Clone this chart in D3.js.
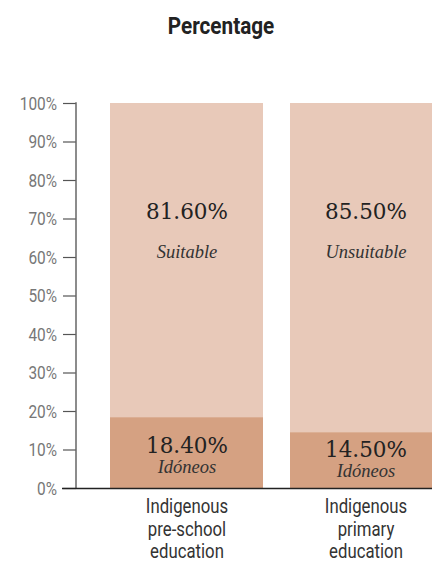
<!DOCTYPE html>
<html><head><meta charset="utf-8">
<script src="https://cdn.jsdelivr.net/npm/d3@7"></script>
<style>
body{margin:0;background:#fff;}
.cond{font-family:"Roboto","Liberation Sans",sans-serif;}
.serif{font-family:"DejaVu Serif","Liberation Serif",serif;}
.ital{font-family:"Liberation Serif","DejaVu Serif",serif;font-style:italic;}
</style></head>
<body><svg id="c" width="432" height="564"></svg>
<script>
const categories = [["Indigenous","pre-school","education"],["Indigenous","primary","education"]];
const bottomValues = [18.4, 14.5];
const topValues = [81.6, 85.5];
const bottomLabels = ["Idóneos","Idóneos"];
const topLabels = ["Suitable","Unsuitable"];
const yTicks = [0,10,20,30,40,50,60,70,80,90,100];

const svg = d3.select("#c");
const y = d3.scaleLinear().domain([0,100]).range([488,103]);
const bw = 153;
const xpos = i => i===0 ? 110 : 290;

function ctext(parent, tx, ty, sx, txt, size, weight, fill, anchor){
  return parent.append("text").attr("class","cond")
    .attr("transform",`translate(${tx},${ty}) scale(${sx},1)`)
    .attr("text-anchor",anchor||"middle").attr("font-size",size)
    .attr("font-weight",weight||"normal").attr("fill",fill).text(txt);
}

ctext(svg,221,34,0.9,"Percentage",23,"bold","#222");

const g = svg.append("g");
categories.forEach((c,i)=>{
  g.append("rect").attr("x",xpos(i)).attr("width",bw).attr("y",y(100)).attr("height",y(bottomValues[i])-y(100)).attr("fill","#e8c9b9");
  g.append("rect").attr("x",xpos(i)).attr("width",bw).attr("y",y(bottomValues[i])).attr("height",y(0)-y(bottomValues[i])).attr("fill","#d5a182");
  const tcx = i===0 ? 187 : 366;
  g.append("text").attr("class","serif").attr("x",tcx).attr("y",219).attr("text-anchor","middle").attr("font-size",21.5).attr("fill","#222").text(topValues[i].toFixed(2)+"%");
  g.append("text").attr("class","ital").attr("x",tcx).attr("y",258).attr("text-anchor","middle").attr("font-size",18.5).attr("fill","#333").text(topLabels[i]);
  const by = i===0 ? 453 : 457;
  g.append("text").attr("class","serif").attr("x",tcx).attr("y",by).attr("text-anchor","middle").attr("font-size",21.5).attr("fill","#222").text(bottomValues[i].toFixed(2)+"%");
  g.append("text").attr("class","ital").attr("x",tcx).attr("y",by+20).attr("text-anchor","middle").attr("font-size",18.5).attr("fill","#333").text(bottomLabels[i]);
  c.forEach((l,j)=>{
    ctext(svg,tcx,513+j*22.5,0.86,l,19.5,"normal","#333");
  });
});

const ax = svg.append("g").attr("transform","translate(76,0)").call(d3.axisLeft(y).tickValues(yTicks).tickSize(13).tickFormat(d=>d+"%"));
ax.select(".domain").remove();
ax.append("line").attr("x1",0).attr("x2",0).attr("y1",y(100)-0.75).attr("y2",y(0)).attr("stroke","#666").attr("stroke-width",1.5);
ax.selectAll(".tick line").attr("stroke","#555").attr("stroke-width",1.2);
ax.selectAll(".tick text").remove();
ax.selectAll(".tick").each(function(d){
  ctext(d3.select(this),-19,6,0.88,d+"%",17.5,"normal","#777","end");
});
svg.append("line").attr("x1",62).attr("x2",432).attr("y1",488.5).attr("y2",488.5).attr("stroke","#222").attr("stroke-width",1.5);
</script></body></html>
